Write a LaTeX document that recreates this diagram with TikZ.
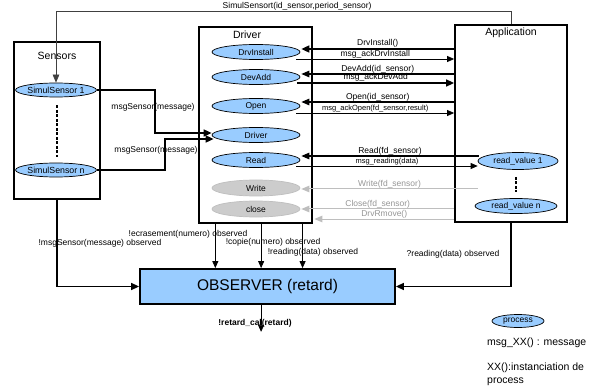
\documentclass[tikz,border=0pt]{standalone}
\usepackage{fontspec}
\setmainfont{Liberation Sans}
\usetikzlibrary{arrows.meta,calc,shapes.geometric}
\definecolor{procblue}{RGB}{153,204,255}
\definecolor{grayfill}{RGB}{204,204,204}
\definecolor{grayline}{RGB}{190,190,190}
\definecolor{graytext}{RGB}{150,150,150}
\begin{document}
\begin{tikzpicture}[x=1pt,y=-1pt,
  box/.style={draw, line width=1.8pt, rectangle, inner sep=0pt},
  proc/.style={ellipse, draw, line width=0.7pt, fill=procblue, inner sep=0pt, font=\fontsize{8.5}{10}\selectfont},
  gproc/.style={ellipse, draw=grayline, line width=0.7pt, fill=grayfill, inner sep=0pt, font=\fontsize{8.5}{10}\selectfont},
  lbl/.style={font=\fontsize{8.5}{10}\selectfont, inner sep=0.5pt},
  slbl/.style={font=\fontsize{7.5}{9}\selectfont, inner sep=0.5pt},
  glbl/.style={font=\fontsize{8.5}{10}\selectfont, inner sep=0.5pt, text=graytext},
  ttl/.style={font=\fontsize{10.5}{12}\selectfont, inner sep=0pt},
  thk/.style={line width=1.6pt, -{Triangle[length=8pt,width=7pt]}},
  med/.style={line width=1.1pt, -{Triangle[length=8pt,width=6.5pt]}},
  thn/.style={line width=0.8pt, -{Triangle[length=7pt,width=6pt]}},
  gry/.style={line width=1pt, draw=grayline, -{Triangle[length=8pt,width=6.5pt]}},
]
\useasboundingbox (0,0) rectangle (594,390);
\fill[white] (0,0) rectangle (594,390);

% Sensors
\node[box, minimum width=86pt, minimum height=157pt] (sensors) at (57,120.5) {};
\node[ttl] (tsens) at (57,56) {Sensors};
\node[proc, minimum width=77pt, minimum height=14pt, font=\fontsize{8.8}{10}\selectfont] (s1) at (56,90) {SimulSensor 1};
\node[proc, minimum width=77pt, minimum height=14pt, font=\fontsize{8.8}{10}\selectfont] (sn) at (56,170) {SimulSensor n};
\draw[line width=1.6pt, dash pattern=on 3pt off 1.5pt] ($(s1.south)+(1,8)$) -- ($(sn.north)+(1,-6)$);

% Driver
\node[box, minimum width=113pt, minimum height=196pt] (drvbox) at (255.5,125) {};
\node[ttl] (tdrv) at (247,35) {Driver};
\node[proc, minimum width=88pt, minimum height=15pt] (di) at (256,52) {DrvInstall};
\node[proc, minimum width=88pt, minimum height=15pt] (da) at (256,77) {DevAdd};
\node[proc, minimum width=88pt, minimum height=15pt] (op) at (256,106) {Open};
\node[proc, minimum width=88pt, minimum height=15pt] (dv) at (256,135) {Driver};
\node[proc, minimum width=88pt, minimum height=15pt] (rd) at (256,160) {Read};
\node[gproc, minimum width=88pt, minimum height=16pt] (wr) at (256,188) {Write};
\node[gproc, minimum width=88pt, minimum height=16pt] (cl) at (256,209) {close};

% Application
\node[box, minimum width=112pt, minimum height=197pt] (app) at (511,123.5) {};
\node[ttl] (tapp) at (511,33) {Application};
\node[proc, minimum width=80pt, minimum height=17pt] (rv1) at (518,161) {read\_value 1};
\node[proc, minimum width=82pt, minimum height=15pt] (rvn) at (516,206) {read\_value n};
\draw[line width=1.6pt, dash pattern=on 3pt off 1.5pt] ($(rv1.south)+(-2,7)$) -- ($(rvn.north)+(0,-6)$);

% Observer
\node[box, fill=procblue, minimum width=255pt, minimum height=35pt, font=\fontsize{15.5}{18}\selectfont] (obs) at (267.5,286.5) {OBSERVER (retard)};

% SimulSensort
\draw[line width=0.7pt, draw=black!75, -{Triangle[length=8pt,width=6.5pt]}] (app.north) -- ++(0,-13) -| (s1.north) node[lbl, pos=0.235, above] {SimulSensort(id\_sensor,period\_sensor)};

% msgSensor
\draw[thk] (s1.east) -- ++(58,0) |- ($(dv.west)+(0,-2)$);
\draw[thk] (sn.east) -- ++(68,0) |- ($(dv.west)+(2,4)$);
\node[lbl] (m1) at (153,107) {msgSensor(message)};
\node[lbl] (m2) at (156,150) {msgSensor(message)};

% Application <-> Driver
\coordinate (t1) at ($(di.east)+(1,-3)$);
\coordinate (s2) at ($(di.east)+(-4,7)$);
\coordinate (t3) at ($(da.east)+(1,-3)$);
\coordinate (s4) at ($(da.east)+(-3,6)$);
\coordinate (t5) at ($(op.east)+(1,-4)$);
\coordinate (s6) at ($(op.east)+(-4,7)$);
\coordinate (t7) at ($(rd.east)+(1,-4)$);
\coordinate (s7) at ($(rv1.west)+(1,-5)$);
\coordinate (s8) at ($(rd.east)+(-4,6)$);
\coordinate (t8) at ($(rv1.west)+(0,5)$);
\coordinate (t9) at ($(wr.east)+(1,1)$);
\coordinate (t10) at ($(cl.east)+(1,0)$);
\coordinate (rm) at ($(cl.east)+(0,10)$);

\draw[thk] (app.west |- t1) -- node[lbl, above] {DrvInstall()} (t1);
\draw[thn] (s2) -- node[lbl, above] {msg\_ackDrvInstall} (app.west |- s2);
\draw[med] (app.west |- t3) -- node[lbl, above] {DevAdd(id\_sensor)} (t3);
\draw[thk] (s4) -- node[lbl, above] {msg\_ackDevAdd} (app.west |- s4);
\draw[med] (app.west |- t5) -- node[lbl, above] {Open(id\_sensor)} (t5);
\draw[thn] (s6) -- node[slbl, above] {msg\_ackOpen(fd\_sensor,result)} (app.west |- s6);
\draw[med] (s7) -- node[lbl, above] {Read(fd\_sensor)} (t7);
\draw[thn] (s8) -- node[slbl, above] {msg\_reading(data)} (t8);
\draw[gry] (rv1.west |- t9) -- node[glbl, above] {Write(fd\_sensor)} (t9);
\draw[gry] (app.west |- t10) -- node[glbl, above] {Close(fd\_sensor)} (t10);
\draw[gry] (app.west |- rm) -- node[glbl, above] {DrvRmove()} ($(drvbox.east |- rm)+(1.5,0)$);

% To observer
\draw[thk] (sensors.south) |- (obs.west);
\node[lbl] (l1) at (100,243) {!msgSensor(message) observed};
\coordinate (d1) at ($(drvbox.south west)!0.15!(drvbox.south east)$);
\coordinate (d2) at ($(drvbox.south west)!0.549!(drvbox.south east)$);
\coordinate (d3) at ($(drvbox.south west)!0.91!(drvbox.south east)$);
\draw[thn] (d1) -- (d1 |- obs.north);
\draw[thn] (d2) -- (d2 |- obs.north);
\draw[thn] (d3) -- (d3 |- obs.north);
\node[lbl] (l2) at (188,234) {!ecrasement(numero) observed};
\node[lbl] (l3) at (273,242) {!copie(numero) observed};
\node[lbl] (l4) at (313,252) {!reading(data) observed};
\draw[thk] (app.south) |- (obs.east);
\node[lbl] (l5) at (453,254) {?reading(data) observed};
\coordinate (o1) at ($(obs.south west)!0.475!(obs.south east)$);
\draw[thn] (o1) -- ++(0,27) coordinate (oend);
\node[lbl, font=\bfseries\fontsize{8.5}{10}\selectfont] (l6) at (255,323) {!retard\_cal(retard)};

% Legend
\node[proc, minimum width=52pt, minimum height=13pt] (leg) at (518,321) {process};
\node[anchor=west, inner sep=0pt, font=\fontsize{10.5}{13}\selectfont] (leg1) at (487,343) {msg\_XX() : message};
\node[anchor=north west, inner sep=0pt, align=left, font=\fontsize{10.5}{13}\selectfont] (leg2) at (487,363) {XX():instanciation de\\process};
\end{tikzpicture}
\end{document}
